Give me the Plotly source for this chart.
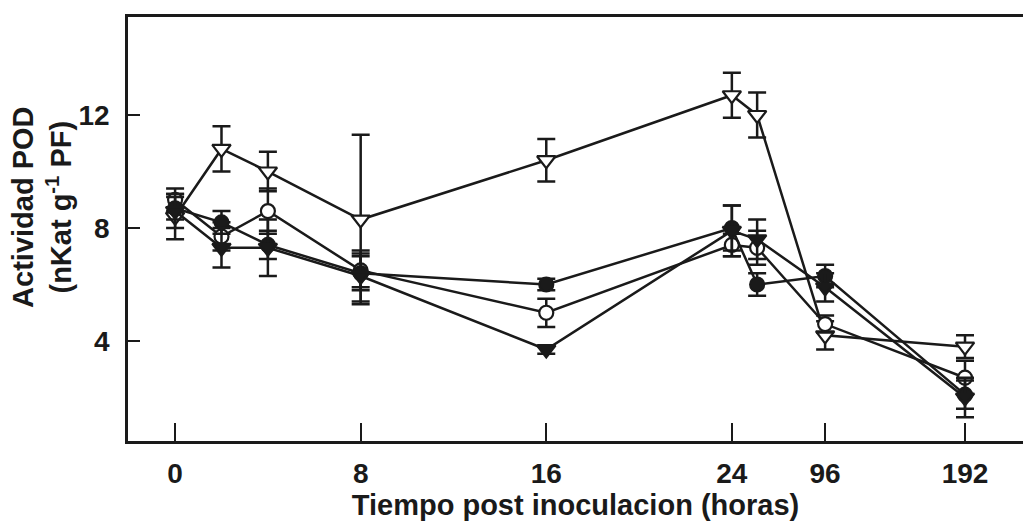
import numpy as np
import plotly.graph_objects as go

# ---- data ----
hours = [0, 2, 4, 8, 16, 24, 48, 96, 192]

open_tri = [8.4, 10.8, 10.0, 8.3, 10.4, 12.7, 12.0, 4.2, 3.8]
open_tri_err = [0.8, 0.8, 0.7, 3.0, 0.75, 0.8, 0.8, 0.5, 0.4]

filled_circ = [8.7, 8.2, 7.4, 6.4, 6.0, 8.0, 6.0, 6.3, 2.1]
filled_circ_err = [0.4, 0.4, 0.5, 0.6, 0.2, 0.8, 0.4, 0.4, 0.5]

open_circ = [9.0, 7.7, 8.6, 6.5, 5.0, 7.4, 7.3, 4.6, 2.7]
open_circ_err = [0.4, 0.5, 0.8, 0.6, 0.5, 0.4, 0.6, 0.3, 0.6]

filled_tri = [8.6, 7.3, 7.3, 6.3, 3.7, 7.9, 7.6, 5.9, 2.0]
filled_tri_err = [0.6, 0.7, 1.0, 0.9, 0.15, 0.9, 0.7, 0.5, 0.7]

tick_hours = [0, 8, 16, 24, 96, 192]
tick_labels = ["0", "8", "16", "24", "96", "192"]
y_ticks = [4, 8, 12]

# broken time axis: linear up to 24 h, compressed afterwards
break_hours = [0, 24, 48, 96, 192]
break_pos = [0, 24, 25.09, 28.02, 34.05]


def to_axis(h):
    return np.interp(h, break_hours, break_pos)


xpos = to_axis(hours)
tickpos = to_axis(tick_hours)

INK = "#1a1a1a"

# (name, values, errors, symbol, size, fill)
series = [
    ("open_tri", open_tri, open_tri_err, "triangle-down", 16, "white"),
    ("open_circ", open_circ, open_circ_err, "circle", 14, "white"),
    ("filled_circ", filled_circ, filled_circ_err, "circle", 14, INK),
    ("filled_tri", filled_tri, filled_tri_err, "triangle-down", 16, INK),
]

fig = go.Figure()
for name, vals, errs, sym, size, fill in series:
    fig.add_trace(go.Scatter(
        x=xpos, y=vals, name=name, mode="lines+markers",
        line=dict(color=INK, width=2.5),
        marker=dict(symbol=sym, size=size, color=fill,
                    line=dict(color=INK, width=2.2)),
        error_y=dict(type="data", array=errs, visible=True,
                     color=INK, thickness=2.5, width=9),
        showlegend=False,
    ))

font_main = "Liberation Sans, Arial, sans-serif"

fig.update_layout(
    width=1023, height=523,
    margin=dict(l=128, r=0, t=17, b=82),
    paper_bgcolor="white", plot_bgcolor="white",
    font=dict(family=font_main, color=INK),
    xaxis=dict(
        range=[-2.03, 36.55],
        tickvals=tickpos, ticktext=tick_labels,
        ticks="inside", ticklen=18, tickwidth=2, tickcolor=INK,
        showline=True, linecolor=INK, linewidth=2.5, mirror=True,
        showgrid=False, zeroline=False,
        tickfont=dict(size=28, family=font_main, weight="bold", color=INK),
        ticklabelstandoff=6,
        title=dict(text="<b>Tiempo post inoculacion (horas)</b>",
                   font=dict(size=29, family=font_main, color=INK), standoff=0),
    ),
    yaxis=dict(
        range=[0.46, 15.47],
        tickvals=y_ticks, ticktext=[str(v) for v in y_ticks],
        ticks="inside", ticklen=12, tickwidth=2, tickcolor=INK,
        showline=True, linecolor=INK, linewidth=2.5,
        showgrid=False, zeroline=False,
        tickfont=dict(size=28, family=font_main, weight="bold", color=INK),
        ticklabelstandoff=10,
    ),
    annotations=[dict(
        text="<b>Actividad POD<br>(nKat g<sup>-1</sup> PF)</b>",
        textangle=-90, xref="paper", yref="paper",
        x=-0.096, y=0.55, xanchor="center", yanchor="middle",
        showarrow=False, font=dict(size=29, family=font_main, color=INK),
    )],
)

fig.write_html("out.html")
